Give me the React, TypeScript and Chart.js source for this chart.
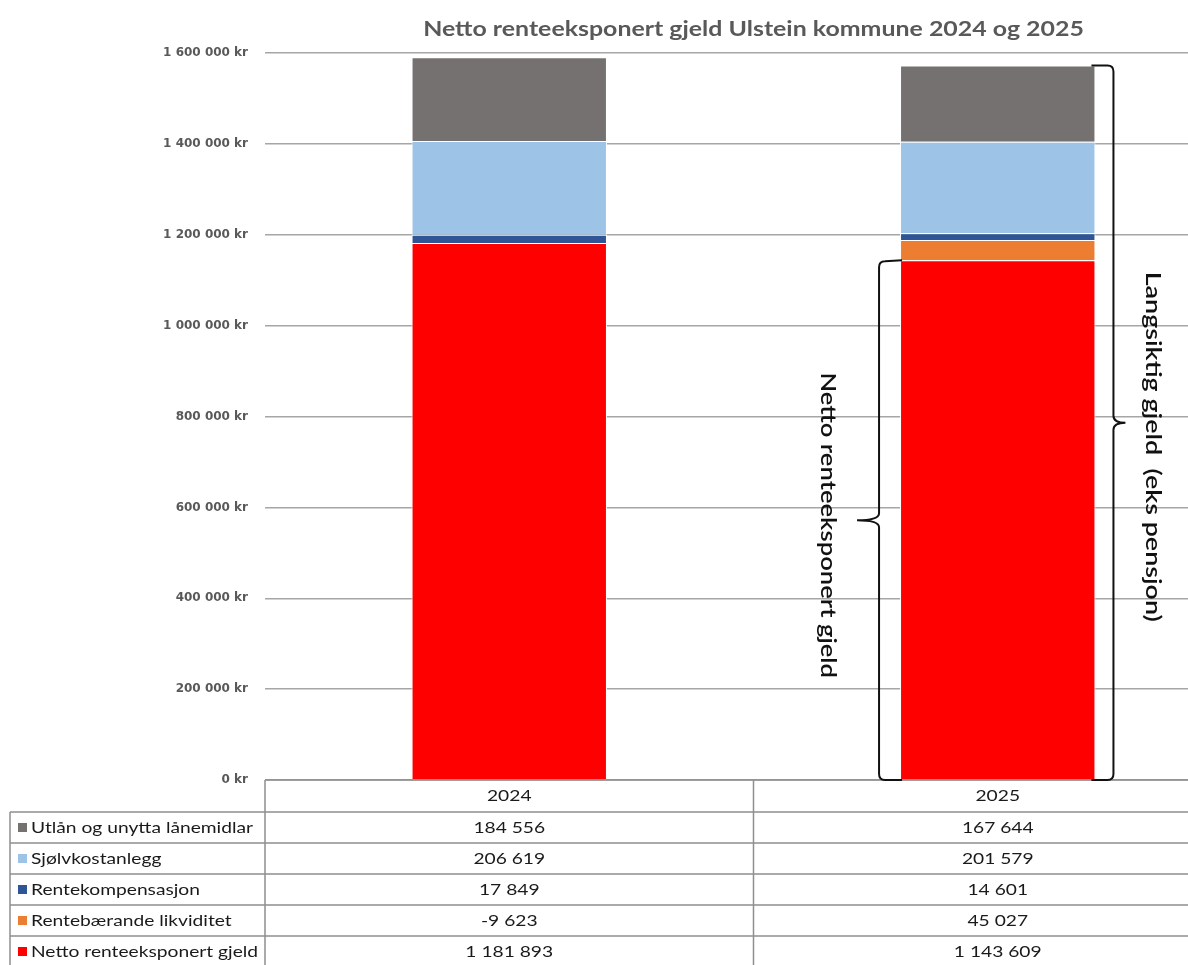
import { useEffect, useRef } from "react";
import { Chart, registerables } from "chart.js";

Chart.register(...registerables);

const categories = ["2024", "2025"];
const chartTitle = "Netto renteeksponert gjeld Ulstein kommune 2024 og 2025";

const seriesUtlan = "Utlån og unytta lånemidlar";
const seriesSjolvkost = "Sjølvkostanlegg";
const seriesRentekomp = "Rentekompensasjon";
const seriesLikviditet = "Rentebærande likviditet";
const seriesNetto = "Netto renteeksponert gjeld";

const utlan = [184556, 167644];
const sjolvkost = [206619, 201579];
const rentekomp = [17849, 14601];
const likviditet = [-9623, 45027];
const netto = [1181893, 1143609];

const yMin = 0;
const yMax = 1600000;
const yStep = 200000;

const braceLongText = "Langsiktig gjeld  (eks pensjon)";
const braceNettoText = "Netto renteeksponert gjeld";

const colGray = "#767171";
const colLightBlue = "#9DC3E6";
const colDarkBlue = "#2F5597";
const colOrange = "#ED7D31";
const colRed = "#FF0000";

const FONT = "Lato, 'Open Sans', sans-serif";

const fmt = (v: number) => {
  const s = Math.abs(Math.round(v)).toString().replace(/\B(?=(\d{3})+(?!\d))/g, " ");
  return (v < 0 ? "-" : "") + s;
};

function stretchText(
  ctx: CanvasRenderingContext2D,
  text: string,
  x: number,
  y: number,
  sx: number,
  align: CanvasTextAlign,
  rot = 0
) {
  ctx.save();
  ctx.translate(x, y);
  if (rot) ctx.rotate(rot);
  ctx.scale(sx, 1);
  ctx.textAlign = align;
  ctx.textBaseline = "middle";
  ctx.fillText(text, 0, 0);
  ctx.restore();
}

const extrasPlugin = {
  id: "extras",
  afterDraw(chart: any) {
    const ctx = chart.ctx as CanvasRenderingContext2D;
    const ca = chart.chartArea;
    const xs = chart.scales.x;
    const ds = chart.data.datasets;

    ctx.save();
    // Title
    ctx.fillStyle = "#595959";
    ctx.font = `bold 20px ${FONT}`;
    stretchText(ctx, chartTitle, (ca.left + ca.right) / 2, 30, 1.245, "center");

    // Data table
    const headerTop = ca.bottom;
    const headerH = 32;
    const rowH = 31;
    const tableLeft = 10;
    const rowsTop = headerTop + headerH;
    const bottom = chart.height + 5;
    const x0 = ca.left;
    const x1 = (xs.getPixelForValue(0) + xs.getPixelForValue(1)) / 2;
    const x2 = ca.right;

    ctx.strokeStyle = "#8f8f8f";
    ctx.lineWidth = 1.5;
    ctx.beginPath();
    ctx.moveTo(x0, headerTop);
    ctx.lineTo(x2 + 20, headerTop);
    ctx.moveTo(x0, headerTop);
    ctx.lineTo(x0, bottom);
    ctx.moveTo(x1, headerTop);
    ctx.lineTo(x1, bottom);
    ctx.moveTo(tableLeft, rowsTop);
    ctx.lineTo(tableLeft, bottom);
    const rows = [...ds].reverse();
    for (let i = 0; i <= rows.length; i++) {
      const y = rowsTop + i * rowH;
      ctx.moveTo(tableLeft, y);
      ctx.lineTo(x2 + 20, y);
    }
    ctx.stroke();

    const tsx = 1.2;
    ctx.fillStyle = "#1a1a1a";
    ctx.font = `16px ${FONT}`;
    categories.forEach((c, i) => {
      stretchText(ctx, c, xs.getPixelForValue(i), headerTop + headerH / 2, tsx, "center");
    });
    rows.forEach((d: any, r: number) => {
      const cy = rowsTop + r * rowH + rowH / 2;
      ctx.fillStyle = d.backgroundColor;
      ctx.fillRect(18, cy - 4.5, 9, 9);
      ctx.fillStyle = "#1a1a1a";
      stretchText(ctx, d.label, 31, cy, tsx, "left");
      d.data.forEach((v: number, i: number) => {
        stretchText(ctx, fmt(v), xs.getPixelForValue(i), cy, tsx, "center");
      });
    });

    // Braces on 2025 bar
    const topMeta = chart.getDatasetMeta(ds.length - 1).data[1];
    const nettoMeta = chart.getDatasetMeta(0).data[1];
    const barW = topMeta.width;
    const barRight = topMeta.x + barW / 2;
    const barLeft = topMeta.x - barW / 2;

    ctx.strokeStyle = "#111";
    ctx.lineWidth = 2;
    ctx.fillStyle = "#111";
    ctx.font = `600 21px ${FONT}`;
    // Right brace
    {
      const top = topMeta.y;
      const bot = ca.bottom;
      const bx = barRight + 18;
      const mid = (top + bot) / 2;
      ctx.beginPath();
      ctx.moveTo(barRight - 4, top);
      ctx.lineTo(bx - 6, top);
      ctx.quadraticCurveTo(bx, top, bx, top + 6);
      ctx.lineTo(bx, mid - 7);
      ctx.quadraticCurveTo(bx, mid, bx + 12, mid);
      ctx.moveTo(bx + 12, mid);
      ctx.quadraticCurveTo(bx, mid, bx, mid + 7);
      ctx.lineTo(bx, bot - 6);
      ctx.quadraticCurveTo(bx, bot, bx - 6, bot);
      ctx.lineTo(barRight - 4, bot);
      ctx.stroke();
      stretchText(ctx, braceLongText, bx + 39, mid + 24, 1.28, "center", Math.PI / 2);
    }
    // Left brace
    {
      const top = nettoMeta.y;
      const bot = ca.bottom;
      const bx = barLeft - 21;
      const mid = (top + bot) / 2;
      ctx.beginPath();
      ctx.moveTo(barLeft + 2, top);
      ctx.lineTo(bx + 6, top + 1);
      ctx.quadraticCurveTo(bx, top + 1, bx, top + 7);
      ctx.lineTo(bx, mid - 7);
      ctx.quadraticCurveTo(bx, mid, bx - 22, mid);
      ctx.moveTo(bx - 22, mid);
      ctx.quadraticCurveTo(bx, mid, bx, mid + 7);
      ctx.lineTo(bx, bot - 6);
      ctx.quadraticCurveTo(bx, bot, bx + 6, bot);
      ctx.lineTo(barLeft + 2, bot);
      ctx.stroke();
      stretchText(ctx, braceNettoText, bx - 51, mid + 5, 1.22, "center", Math.PI / 2);
    }
    ctx.restore();
  },
};

export default function App() {
  const ref = useRef<HTMLCanvasElement | null>(null);

  useEffect(() => {
    if (!ref.current) return;
    const mk = (label: string, data: number[], color: string) => ({
      label,
      data,
      backgroundColor: color,
      borderColor: "#ffffff",
      borderWidth: 1,
      borderSkipped: "start" as const,
      barPercentage: 1,
      categoryPercentage: 0.4,
    });
    const chart = new Chart(ref.current, {
      type: "bar",
      data: {
        labels: categories,
        datasets: [
          mk(seriesNetto, netto, colRed),
          mk(seriesLikviditet, likviditet, colOrange),
          mk(seriesRentekomp, rentekomp, colDarkBlue),
          mk(seriesSjolvkost, sjolvkost, colLightBlue),
          mk(seriesUtlan, utlan, colGray),
        ],
      },
      options: {
        animation: false,
        responsive: false,
        layout: { padding: { top: 53, bottom: 185, left: 0, right: 18 } },
        plugins: {
          legend: { display: false },
          title: { display: false },
          tooltip: { enabled: false },
        },
        scales: {
          x: { stacked: true, display: false },
          y: {
            stacked: true,
            min: yMin,
            max: yMax,
            border: { display: false },
            grid: { color: "#a6a6a6", lineWidth: 1.5, drawTicks: false },
            ticks: {
              stepSize: yStep,
              padding: 17,
              color: "#595959",
              font: { family: "'DejaVu Sans', sans-serif", size: 12, weight: "bold" },
              callback: (v: any) => fmt(Number(v)) + " kr",
            },
            afterFit: (s: any) => {
              s.width = 265;
            },
          },
        },
      },
      plugins: [extrasPlugin],
    });
    return () => chart.destroy();
  }, []);

  return (
    <div
      style={{
        position: "absolute",
        left: 0,
        top: 0,
        width: 1188,
        height: 965,
        overflow: "hidden",
        background: "#fff",
      }}
    >
      <canvas ref={ref} width={1260} height={965} style={{ display: "block" }} />
    </div>
  );
}
